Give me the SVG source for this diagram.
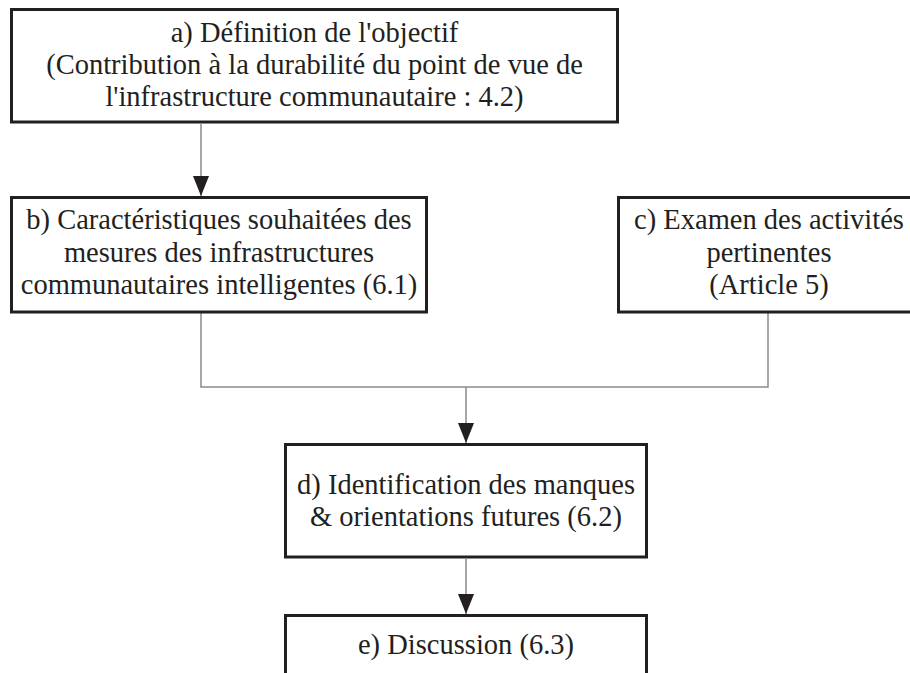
<svg xmlns="http://www.w3.org/2000/svg" width="910" height="673" viewBox="0 0 910 673">
<style>
.box{fill:#fff;stroke:#231f20;stroke-width:3}
.lbl{font-family:"Liberation Serif","Times New Roman",serif;font-size:28.5px;fill:#231f20;text-anchor:middle}
.con{fill:none;stroke:#8a8a8a;stroke-width:1.5}
</style>
<defs>
<marker id="arr" markerUnits="userSpaceOnUse" viewBox="0 0 20 16" refX="20" refY="8" markerWidth="20" markerHeight="16" orient="auto">
<path d="M0,0 L20,8 L0,16 z" fill="#231f20"/>
</marker>
</defs>
<rect width="910" height="673" fill="#fff"/>
<g id="connectors">
<line class="con" x1="201" y1="124" x2="201" y2="196" marker-end="url(#arr)"/>
<polyline class="con" points="201,313 201,387 768,387 768,313"/>
<line class="con" x1="466" y1="387" x2="466" y2="443" marker-end="url(#arr)"/>
<line class="con" x1="466" y1="559" x2="466" y2="614" marker-end="url(#arr)"/>
</g>
<g id="node-a">
<rect class="box" x="11.5" y="9.5" width="606" height="112.5"/>
<text class="lbl" x="314.5" y="41.5">a) Définition de l'objectif</text>
<text class="lbl" x="314.5" y="74">(Contribution à la durabilité du point de vue de</text>
<text class="lbl" x="314.5" y="106">l'infrastructure communautaire : 4.2)</text>
</g>
<g id="node-b">
<rect class="box" x="11.5" y="197.5" width="415" height="114.5"/>
<text class="lbl" x="219" y="229">b) Caractéristiques souhaitées des</text>
<text class="lbl" x="219" y="261.5">mesures des infrastructures</text>
<text class="lbl" x="219" y="294">communautaires intelligentes (6.1)</text>
</g>
<g id="node-c">
<rect class="box" x="618.5" y="197.5" width="320" height="114.5"/>
<text class="lbl" x="769" y="229">c) Examen des activités</text>
<text class="lbl" x="769" y="261.5">pertinentes</text>
<text class="lbl" x="769" y="294">(Article 5)</text>
</g>
<g id="node-d">
<rect class="box" x="285.5" y="444.5" width="361" height="112.5"/>
<text class="lbl" x="466" y="494">d) Identification des manques</text>
<text class="lbl" x="466" y="526">&amp; orientations futures (6.2)</text>
</g>
<g id="node-e">
<rect class="box" x="285.5" y="615.5" width="361" height="100"/>
<text class="lbl" x="466" y="653.5">e) Discussion (6.3)</text>
</g>
</svg>
